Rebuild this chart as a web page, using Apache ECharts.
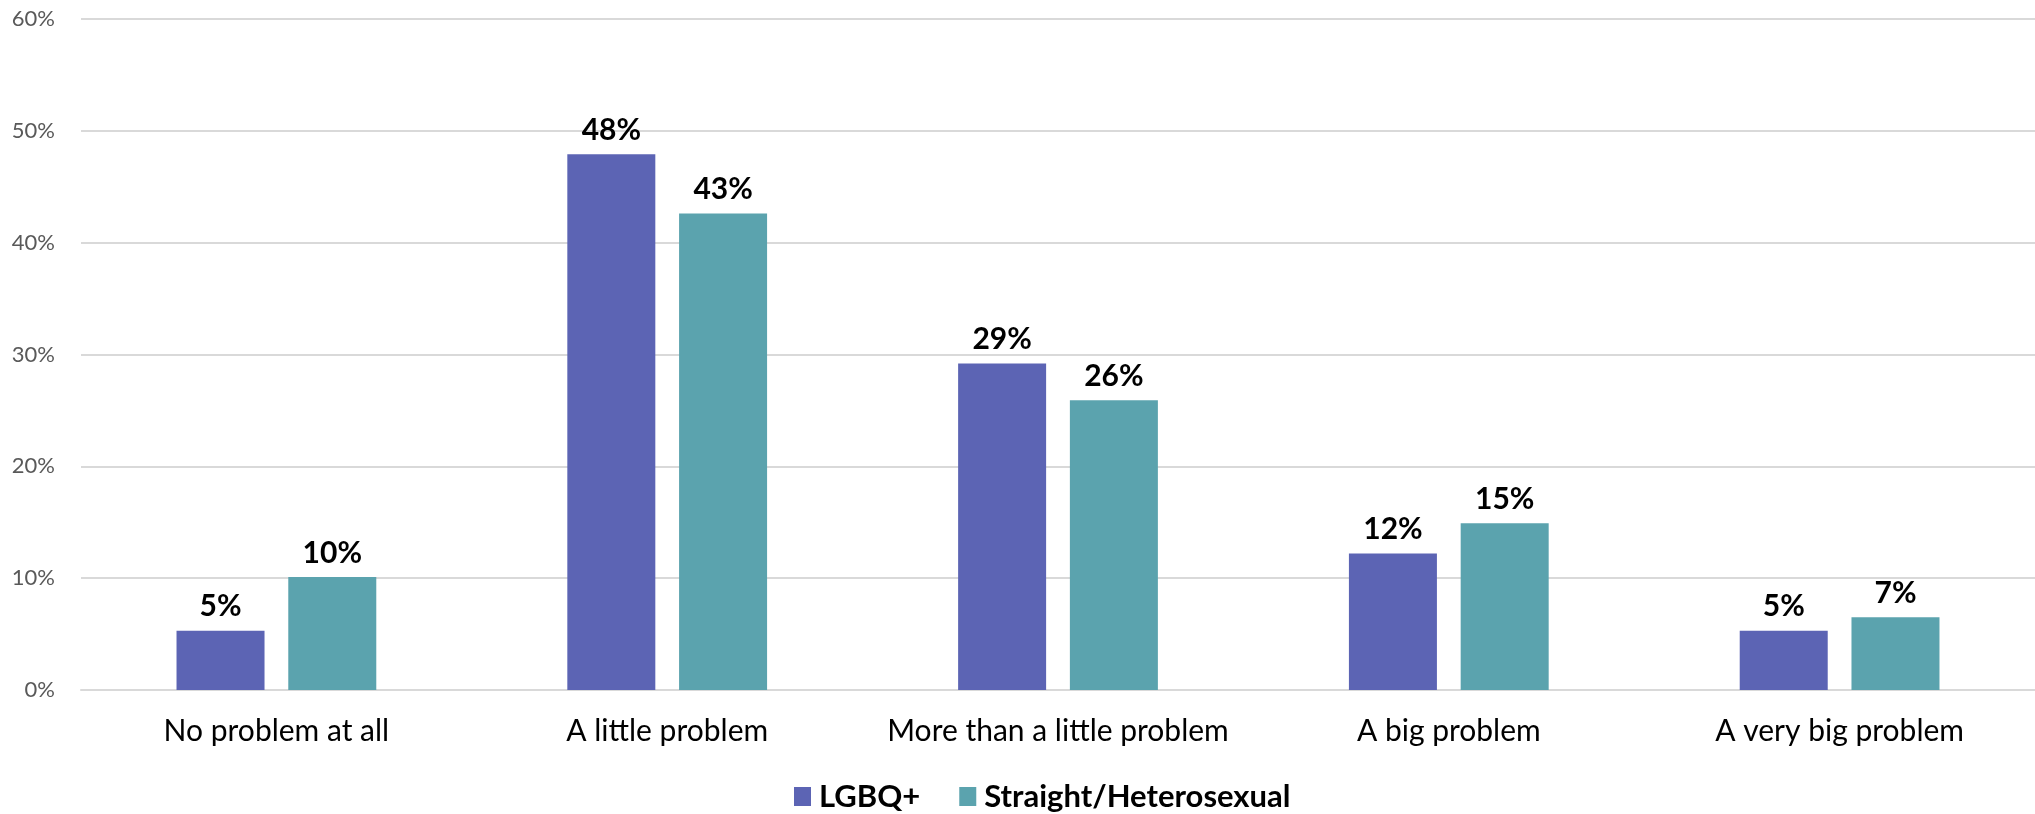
<!DOCTYPE html>
<html><head><meta charset="utf-8">
<script src="https://cdn.jsdelivr.net/npm/echarts@6/dist/echarts.min.js"></script>
<style>html,body{margin:0;padding:0;background:#fff}#c{width:2035px;height:814px}</style>
</head><body><div id="c"></div>
<script>
const categories = ["No problem at all","A little problem","More than a little problem","A big problem","A very big problem"];
const seriesNames = ["LGBQ+","Straight/Heterosexual"];
const lgbq = [5.3, 47.9, 29.2, 12.2, 5.3];
const straight = [10.1, 42.6, 25.9, 14.9, 6.5];
const lgbqLabels = ["5%","48%","29%","12%","5%"];
const straightLabels = ["10%","43%","26%","15%","7%"];
const colors = ["#5C64B4","#5BA3AE"];
const FONT = "Lato";
const chart = echarts.init(document.getElementById('c'));
function mk(name, data, labels, color){
  return {
    name, type:'bar', data, barWidth:88, barGap:'27%',
    itemStyle:{color},
    label:{show:true, position:'top', distance:9, fontFamily:FONT, fontWeight:'bold', fontSize:30, color:'#000',
      formatter:p=>labels[p.dataIndex]}
  };
}
chart.setOption({
  animation:false,
  textStyle:{fontFamily:FONT},
  grid:{left:81, width:1960, top:19, bottom:124, containLabel:false},
  legend:{top:776, left:789, itemWidth:17, itemHeight:19, itemGap:39,
    icon:'rect', textStyle:{fontFamily:FONT, fontWeight:'bold', fontSize:31, color:'#000', padding:[0,0,0,3]},
    data:seriesNames},
  xAxis:{type:'category', data:categories, axisTick:{show:false},
    axisLine:{show:true, lineStyle:{color:'#d9d9d9', width:2}},
    axisLabel:{interval:0, fontFamily:FONT, fontSize:30, color:'#000', margin:26}},
  yAxis:{type:'value', min:0, max:60, interval:10,
    axisLabel:{formatter:'{value}%', fontFamily:FONT, fontSize:22, color:'#595959', margin:26},
    splitLine:{lineStyle:{color:'#d9d9d9', width:2}},
    axisLine:{show:false}, axisTick:{show:false}},
  series:[mk(seriesNames[0], lgbq, lgbqLabels, colors[0]), mk(seriesNames[1], straight, straightLabels, colors[1])]
});
</script></body></html>
